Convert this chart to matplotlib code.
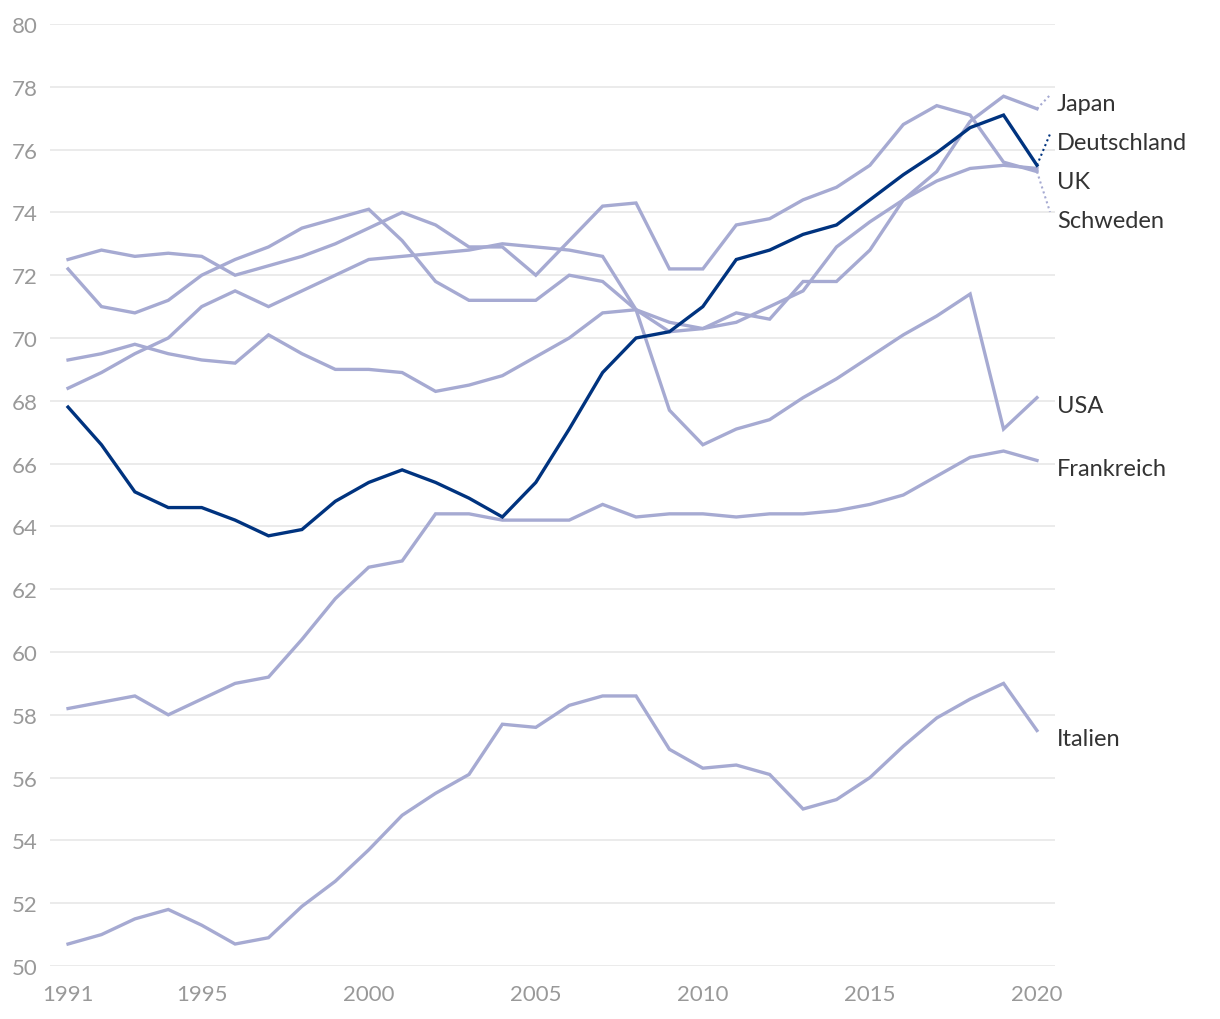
import matplotlib
matplotlib.use("Agg")
import matplotlib.pyplot as plt
import numpy as np

years = list(range(1991, 2021))

japan = [69.3, 69.5, 69.8, 69.5, 69.3, 69.2, 70.1, 69.5, 69.0, 69.0,
         68.9, 68.3, 68.5, 68.8, 69.4, 70.0, 70.8, 70.9, 70.5, 70.3,
         70.8, 70.6, 71.8, 71.8, 72.8, 74.4, 75.3, 76.9, 77.7, 77.3]
deutschland = [67.8, 66.6, 65.1, 64.6, 64.6, 64.2, 63.7, 63.9, 64.8, 65.4,
               65.8, 65.4, 64.9, 64.3, 65.4, 67.1, 68.9, 70.0, 70.2, 71.0,
               72.5, 72.8, 73.3, 73.6, 74.4, 75.2, 75.9, 76.7, 77.1, 75.5]
uk = [68.4, 68.9, 69.5, 70.0, 71.0, 71.5, 71.0, 71.5, 72.0, 72.5,
      72.6, 72.7, 72.8, 73.0, 72.9, 72.8, 72.6, 70.9, 70.2, 70.3,
      70.5, 71.0, 71.5, 72.9, 73.7, 74.4, 75.0, 75.4, 75.5, 75.4]
schweden = [72.5, 72.8, 72.6, 72.7, 72.6, 72.0, 72.3, 72.6, 73.0, 73.5,
            74.0, 73.6, 72.9, 72.9, 72.0, 73.1, 74.2, 74.3, 72.2, 72.2,
            73.6, 73.8, 74.4, 74.8, 75.5, 76.8, 77.4, 77.1, 75.6, 75.3]
usa = [72.2, 71.0, 70.8, 71.2, 72.0, 72.5, 72.9, 73.5, 73.8, 74.1,
       73.1, 71.8, 71.2, 71.2, 71.2, 72.0, 71.8, 70.9, 67.7, 66.6,
       67.1, 67.4, 68.1, 68.7, 69.4, 70.1, 70.7, 71.4, 67.1, 68.1]
frankreich = [58.2, 58.4, 58.6, 58.0, 58.5, 59.0, 59.2, 60.4, 61.7, 62.7,
              62.9, 64.4, 64.4, 64.2, 64.2, 64.2, 64.7, 64.3, 64.4, 64.4,
              64.3, 64.4, 64.4, 64.5, 64.7, 65.0, 65.6, 66.2, 66.4, 66.1]
italien = [50.7, 51.0, 51.5, 51.8, 51.3, 50.7, 50.9, 51.9, 52.7, 53.7,
           54.8, 55.5, 56.1, 57.7, 57.6, 58.3, 58.6, 58.6, 56.9, 56.3,
           56.4, 56.1, 55.0, 55.3, 56.0, 57.0, 57.9, 58.5, 59.0, 57.5]

series_names = ["Japan", "Deutschland", "UK", "Schweden", "USA", "Frankreich", "Italien"]
series_values = [japan, deutschland, uk, schweden, usa, frankreich, italien]
highlight = "Deutschland"

x_ticks = [1991, 1995, 2000, 2005, 2010, 2015, 2020]
y_ticks = list(range(50, 81, 2))

LIGHT = "#a6aad2"
DARK = "#00337f"
TEXT = "#333333"
TICK = "#999999"
FONT = ["Lato", "DejaVu Sans"]

plt.rcParams["font.family"] = FONT

fig = plt.figure(figsize=(12.2, 10.2), dpi=100)
ax = fig.add_axes([50 / 1220, 53 / 1020, 1005 / 1220, 942 / 1020])

for name, vals in zip(series_names, series_values):
    if name == highlight:
        continue
    ax.plot(years, vals, color=LIGHT, lw=2.4, solid_joinstyle="miter", zorder=2)
for name, vals in zip(series_names, series_values):
    if name == highlight:
        ax.plot(years, vals, color=DARK, lw=2.4, solid_joinstyle="miter", zorder=3)

ax.set_xlim(1990.46, 2020.54)
ax.set_ylim(50, 80)
ax.set_xticks(x_ticks)
ax.set_yticks(y_ticks)
ax.grid(axis="y", color="#e6e6e6", lw=1.1, zorder=0)
ax.grid(axis="x", visible=False)
for s in ax.spines.values():
    s.set_visible(False)
ax.tick_params(axis="both", length=0, labelsize=16, labelcolor=TICK)
ax.tick_params(axis="y", pad=9)
ax.tick_params(axis="x", pad=13)

# end labels with simple de-overlap
ends = [v[-1] for v in series_values]
order = sorted(range(len(ends)), key=lambda i: -ends[i])
gap = 1.24
clusters = [[i] for i in order]


def place(cl):
    m = np.mean([ends[i] for i in cl])
    n = len(cl)
    return {i: m + ((n - 1) / 2 - k) * gap for k, i in enumerate(cl)}


changed = True
while changed:
    changed = False
    pos = {}
    for cl in clusters:
        pos.update(place(cl))
    for j in range(len(clusters) - 1):
        a = clusters[j][-1]
        b = clusters[j + 1][0]
        if pos[a] - pos[b] < gap - 1e-9:
            clusters[j] = clusters[j] + clusters[j + 1]
            del clusters[j + 1]
            changed = True
            break
pos = {}
for cl in clusters:
    pos.update(place(cl))

last = years[-1]
for i, name in enumerate(series_names):
    col = DARK if name == highlight else LIGHT
    ly = pos[i]
    if abs(ly - ends[i]) > 0.3:
        ax.plot([last, last + 0.39], [ends[i], ly], color=col, lw=1.5,
                ls=(0, (1, 1.5)), clip_on=False, zorder=2)
    ax.annotate(name, xy=(last + 0.6, ly), xycoords="data",
                xytext=(0, -10.5), textcoords="offset points",
                ha="left", va="baseline", fontsize=17, color=TEXT,
                annotation_clip=False)

fig.savefig("out.png", dpi=100, facecolor="white")
